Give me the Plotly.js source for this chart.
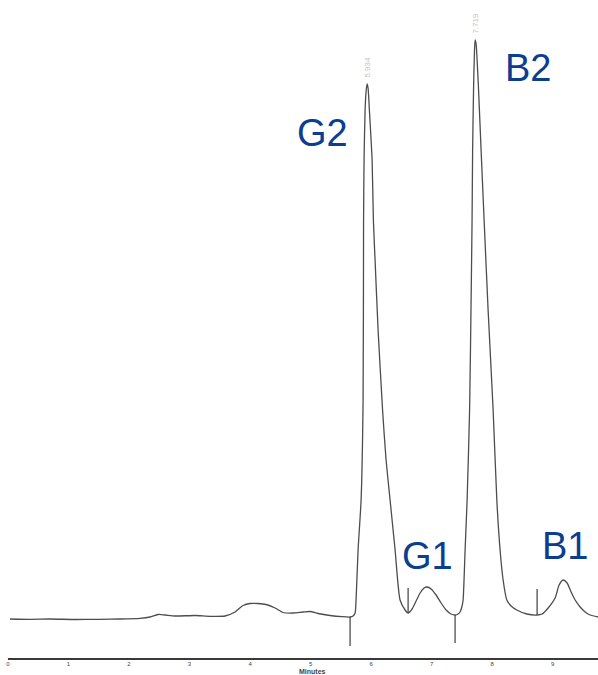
<!DOCTYPE html>
<html>
<head>
<meta charset="utf-8">
<script src="https://cdn.plot.ly/plotly-3.0.1.min.js"></script>
<style>html,body{margin:0;padding:0;background:#fff;}#chart{width:598px;height:675px;}</style>
</head>
<body>
<div id="chart"></div>
<script>
// Chromatogram trace: retention time (minutes) and detector signal (arbitrary units)
var timeMin = [0.033,0.364,0.694,1.107,1.521,1.851,2.182,2.347,2.479,2.595,2.760,3.091,3.339,3.587,3.752,3.884,4.000,4.132,4.264,4.413,4.545,4.711,4.876,4.992,5.124,5.322,5.521,5.653,
  5.702,5.736,5.752,5.785,5.835,5.868,5.876,5.884,5.901,5.917,5.934,5.950,5.972,6.017,6.038,6.066,6.116,6.190,6.248,6.314,6.397,6.479,6.562,6.612,
  6.678,6.744,6.810,6.876,6.926,6.992,7.074,7.157,7.240,7.322,7.388,
  7.438,7.471,7.504,7.521,7.554,7.587,7.628,7.653,7.669,7.678,7.694,7.707,7.719,7.736,7.752,7.774,7.818,7.868,7.934,8.017,8.078,8.132,8.182,8.243,8.314,8.408,8.574,8.744,
  8.826,8.926,9.041,9.107,9.174,9.240,9.306,9.372,9.455,9.537,9.620,9.752];
var signal = [0.10,0.07,0.10,0.05,0.07,0.10,0.17,0.30,0.55,0.50,0.40,0.45,0.37,0.40,0.80,1.45,1.65,1.65,1.55,1.20,0.75,0.70,0.80,0.85,0.65,0.45,0.33,0.30,
  0.40,0.70,2.0,7.0,12.0,22.0,40.0,46.0,51.0,52.8,53.6,53.2,51.0,46.0,40.0,36.0,29.0,21.0,16.0,12.0,7.0,2.0,1.0,0.70,
  1.1,1.9,2.7,3.2,3.3,3.1,2.5,1.7,1.0,0.6,0.5,
  0.6,0.8,1.4,2.0,7.0,12.0,21.0,32.0,40.0,47.0,53.3,56.5,58.0,57.6,56.0,53.3,47.0,40.0,31.0,21.0,12.0,7.0,4.0,2.0,1.4,1.0,0.6,0.5,
  0.6,1.2,2.2,3.5,4.0,3.7,2.8,2.0,1.3,0.8,0.5,0.3];

// Integration event markers (peak start ticks)
var markerTimes = [5.653, 6.612, 7.388, 8.744];
var markerFrom  = [0.3, 0.7, 0.5, 0.5];
var markerTo    = [-2.6, 3.2, -2.3, 3.1];

// Peak names
var peakNames = ["G2", "G1", "B2", "B1"];
var peakLabelTime = [5.19, 6.94, 8.60, 9.21];
var peakLabelSignal = [48.7, 6.4, 55.2, 7.4];

// Apex retention-time labels
var apexTimes = [5.934, 7.719];
var apexSignal = [53.6, 58.0];

// Axis ticks
var tickVals = [0,1,2,3,4,5,6,7,8,9];
var tickText = ["0","1","2","3","4","5","6","7","8","9"];

var mx = [], my = [];
for (var i = 0; i < markerTimes.length; i++) {
  mx.push(markerTimes[i], markerTimes[i], null);
  my.push(markerFrom[i], markerTo[i], null);
}

var traces = [
  {x: timeMin, y: signal, type: 'scatter', mode: 'lines', line: {color: '#4d4d4d', width: 1.3, shape: 'spline', smoothing: 0.6}, hoverinfo: 'skip'},
  {x: mx, y: my, type: 'scatter', mode: 'lines', line: {color: '#4d4d4d', width: 1.3}, hoverinfo: 'skip', connectgaps: false}
];

var annotations = [];
for (var j = 0; j < peakNames.length; j++) {
  annotations.push({x: peakLabelTime[j], y: peakLabelSignal[j], xref: 'x', yref: 'y', text: peakNames[j], showarrow: false,
    xanchor: 'center', yanchor: 'middle', font: {family: 'Liberation Sans, Arial, sans-serif', size: 38, color: '#0b3d91'}});
}
for (var k = 0; k < apexTimes.length; k++) {
  annotations.push({x: apexTimes[k], y: apexSignal[k], xref: 'x', yref: 'y', text: apexTimes[k].toFixed(3), showarrow: false,
    textangle: -90, xanchor: 'center', yanchor: 'bottom', yshift: 4, font: {family: 'Liberation Sans, Arial, sans-serif', size: 8, color: '#c4c4c4'}});
}
annotations.push({x: 5.03, y: 0, xref: 'x', yref: 'paper', yshift: -13, text: '<b>Minutes</b>', showarrow: false,
  xanchor: 'center', yanchor: 'middle', font: {family: 'Liberation Sans, Arial, sans-serif', size: 7, color: '#444'}});

var layout = {
  width: 598, height: 675,
  margin: {l: 8, r: 0, t: 0, b: 17, pad: 0},
  paper_bgcolor: '#ffffff', plot_bgcolor: '#ffffff',
  showlegend: false,
  xaxis: {range: [0, 9.75], showgrid: false, zeroline: false, showline: true, linecolor: '#3a3a3a', linewidth: 1.5,
    ticks: '', ticklen: 0, ticklabelstandoff: -1, tickvals: tickVals, ticktext: tickText,
    tickfont: {family: 'Liberation Sans, Arial, sans-serif', size: 6, color: '#444'}, fixedrange: true},
  yaxis: {range: [-3.8, 62], visible: false, showgrid: false, zeroline: false, fixedrange: true},
  annotations: annotations
};

Plotly.newPlot('chart', traces, layout, {staticPlot: true, displayModeBar: false});
</script>
</body>
</html>
